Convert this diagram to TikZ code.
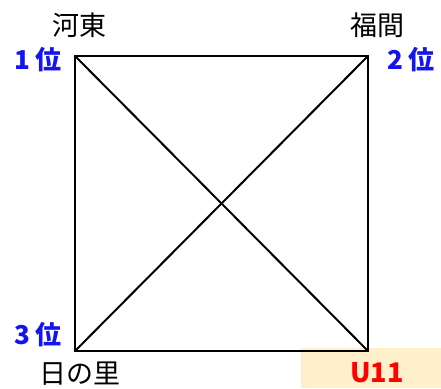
\documentclass[tikz,border=0pt]{standalone}
\usepackage{fontspec}
\setmainfont{Noto Sans CJK JP}
\usetikzlibrary{positioning}
\definecolor{rankblue}{RGB}{20,20,240}
\definecolor{tagyellow}{RGB}{255,240,204}
\begin{document}
\begin{tikzpicture}[
	x=1pt, y=1pt,
	every node/.style={font=\fontsize{27}{30}\selectfont, inner sep=0pt},
	rank/.style={text=rankblue, font=\fontsize{26}{30}\selectfont\bfseries},
	edge/.style={line width=2pt}
	]
	\useasboundingbox (0,0) rectangle (441,388);
	\fill[tagyellow] (301,0) rectangle (441,40);
	
	\coordinate (TL) at (75,332);
	\coordinate (TR) at (368,332);
	\coordinate (BL) at (75,37);
	\coordinate (BR) at (368,37);
	
	\draw[edge] (TL) -- (TR) -- (BR) -- (BL) -- cycle;
	\draw[edge] (TL) -- (BR);
	\draw[edge] (TR) -- (BL);
	
	\node (Kawahigashi) at (79,363) {河東};
	\node (Fukuma) at (377,363) {福間};
	\node (Hinosato) at (80,14) {日の里};
	
	\node[rank] (First) at (38,328) {1\kern0.2em位};
	\node[rank] (Second) at (411,328) {2\kern0.2em位};
	\node[rank] (Third) at (38,53) {3\kern0.2em位};
	
	\node[text=red, font=\fontsize{27}{30}\selectfont\bfseries] (Category) at (377,15) {U11};
\end{tikzpicture}
\end{document}
